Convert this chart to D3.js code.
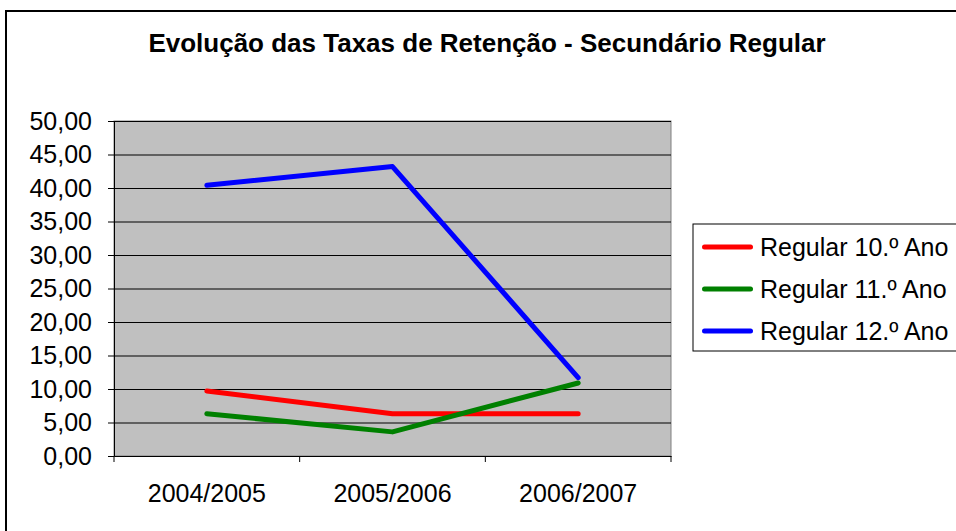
<!DOCTYPE html>
<html>
<head>
<meta charset="utf-8">
<script src="https://cdn.jsdelivr.net/npm/d3@7"></script>
<style>
  body { margin: 0; background: #fff; }
  svg { display: block; font-family: "Liberation Sans", Arial, sans-serif; }
</style>
</head>
<body>
<svg width="956" height="531"></svg>
<script>
const years = ["2004/2005", "2005/2006", "2006/2007"];
const seriesNames = ["Regular 10.º Ano", "Regular 11.º Ano", "Regular 12.º Ano"];
const regular10 = [9.7, 6.3, 6.3];
const regular11 = [6.3, 3.6, 10.9];
const regular12 = [40.4, 43.2, 11.7];
const yTicks = [0, 5, 10, 15, 20, 25, 30, 35, 40, 45, 50];
const colors = ["#ff0000", "#008000", "#0000ff"];

const series = [regular10, regular11, regular12].map((v, i) => ({
  name: seriesNames[i], values: v, color: colors[i]
}));

const svg = d3.select("svg");
const plotLeft = 114, plotRight = 671, plotTop = 121, plotBottom = 456;
const fs = 25;

// chart frame
svg.append("rect")
  .attr("x", 6).attr("y", 11)
  .attr("width", 1000).attr("height", 600)
  .attr("fill", "#fff").attr("stroke", "#000").attr("stroke-width", 2);

svg.append("text")
  .attr("x", 487).attr("y", 52)
  .attr("text-anchor", "middle")
  .attr("font-size", 26).attr("font-weight", "bold")
  .text("Evolução das Taxas de Retenção - Secundário Regular");

const x = d3.scaleBand().domain(years).range([plotLeft, plotRight]);
const y = d3.scaleLinear().domain([0, 50]).range([plotBottom, plotTop]);

// plot area
svg.append("rect")
  .attr("x", plotLeft).attr("y", plotTop)
  .attr("width", plotRight - plotLeft).attr("height", plotBottom - plotTop)
  .attr("fill", "#c0c0c0").attr("stroke", "#808080").attr("stroke-width", 1);

svg.append("g").selectAll("line")
  .data(yTicks.filter(d => d > 0))
  .enter().append("line")
  .attr("x1", plotLeft).attr("x2", plotRight)
  .attr("y1", d => y(d) + 0.5).attr("y2", d => y(d) + 0.5)
  .attr("stroke", "#000").attr("stroke-width", 1);

// y axis
const yAxis = svg.append("g")
  .attr("transform", `translate(${plotLeft},0)`)
  .call(d3.axisLeft(y).tickValues(yTicks).tickSize(6).tickPadding(16)
    .tickFormat(d => d3.format(".2f")(d).replace(".", ",")));
yAxis.selectAll("text").attr("font-size", fs).attr("fill", "#000")
  .attr("font-family", "Liberation Sans, Arial, sans-serif");
yAxis.selectAll("line, path").attr("stroke", "#000");

// x axis
const xAxis = svg.append("g")
  .attr("transform", `translate(0,${plotBottom})`)
  .call(d3.axisBottom(x).tickSize(0).tickPadding(28));
xAxis.selectAll("text").attr("font-size", fs).attr("fill", "#000")
  .attr("font-family", "Liberation Sans, Arial, sans-serif");
xAxis.select("path").attr("stroke", "#000");
xAxis.selectAll(".sep")
  .data(years.map(d => x(d)).concat([plotRight]))
  .enter().append("line")
  .attr("class", "sep")
  .attr("x1", d => d).attr("x2", d => d)
  .attr("y1", 0).attr("y2", 6)
  .attr("stroke", "#000");

// lines
const line = d3.line()
  .x((d, i) => x(years[i]) + x.bandwidth() / 2)
  .y(d => y(d));

svg.append("g").selectAll("path")
  .data(series)
  .enter().append("path")
  .attr("d", d => line(d.values))
  .attr("fill", "none")
  .attr("stroke", d => d.color)
  .attr("stroke-width", 5)
  .attr("stroke-linecap", "round")
  .attr("stroke-linejoin", "round");

// legend
const legend = svg.append("g").attr("transform", "translate(693,224)");
legend.append("rect")
  .attr("width", 300).attr("height", 127)
  .attr("fill", "#fff").attr("stroke", "#000").attr("stroke-width", 1);

const items = legend.selectAll(".item")
  .data(series)
  .enter().append("g")
  .attr("class", "item")
  .attr("transform", (d, i) => `translate(0,${23 + i * 42})`);

items.append("line")
  .attr("x1", 11.5).attr("x2", 57.5)
  .attr("stroke", d => d.color)
  .attr("stroke-width", 5)
  .attr("stroke-linecap", "round");

items.append("text")
  .attr("x", 67).attr("dy", "0.35em")
  .attr("font-size", fs)
  .text(d => d.name);
</script>
</body>
</html>
